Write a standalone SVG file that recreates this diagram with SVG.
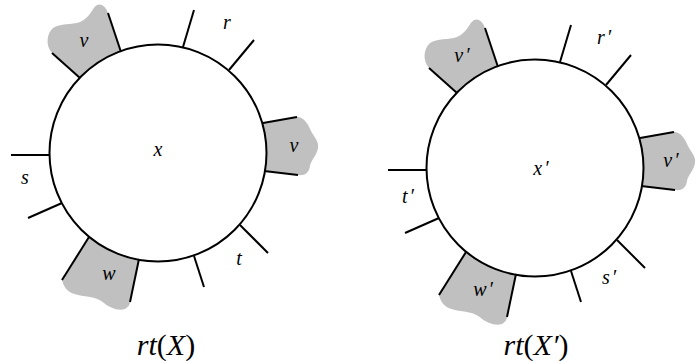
<svg xmlns="http://www.w3.org/2000/svg" width="698" height="361" viewBox="0 0 698 361">
<style>
.blob{fill:#c0c0c0;stroke:none}
.ring{fill:#fff;stroke:#000;stroke-width:2}
.spoke{stroke:#000;stroke-width:2;fill:none}
.lbl{font-family:"Liberation Serif","Times New Roman",serif;font-style:italic;font-size:20px;text-anchor:middle;fill:#000}
.title{font-family:"Liberation Serif","Times New Roman",serif;font-style:italic;font-size:30px;text-anchor:middle;fill:#000}
.up{font-style:normal}
</style>
<defs>
<g id="shape">
<path class="blob" d="M121,52 L108,13 C106,7 102,3 97,5 C92,8 90,18 80,22 C72,25 60,23 53,28 C47,33 45,45 52,53 L80,78 L110,80 Z"/>
<path class="blob" d="M263,123 L297,117 C304,117 308,124 311,131 C314,137 319,141 318,148 C317,155 311,160 310,166 C309,172 306,176 298,175 L264,171 L250,150 Z"/>
<path class="blob" d="M89,237 L62,280 C64,288 68,293 78,295 C88,297 97,297 104,303 C110,308 118,311 125,309 C128,307 130,305 130,302 L139,259 L110,240 Z"/>
<circle class="ring" cx="158" cy="153" r="108.5"/>
<g class="spoke">
<line x1="183" y1="47" x2="194" y2="10"/>
<line x1="229" y1="70" x2="254" y2="40"/>
<line x1="121" y1="52" x2="108" y2="13"/>
<line x1="80" y1="78" x2="52" y2="53"/>
<line x1="263" y1="123" x2="297" y2="117"/>
<line x1="264" y1="171" x2="298" y2="175"/>
<line x1="50" y1="155" x2="11" y2="155"/>
<line x1="62" y1="203" x2="28" y2="218"/>
<line x1="89" y1="237" x2="62" y2="280"/>
<line x1="139" y1="259" x2="130" y2="302"/>
<line x1="194" y1="256" x2="204" y2="287"/>
<line x1="240" y1="225" x2="268" y2="253"/>
</g>
</g>
</defs>
<g id="rtX">
<use href="#shape"/>
<text class="lbl" x="227" y="29">r</text>
<text class="lbl" x="84" y="47">v</text>
<text class="lbl" x="294" y="152">v</text>
<text class="lbl" x="158" y="156">x</text>
<text class="lbl" x="25" y="184">s</text>
<text class="lbl" x="109" y="280">w</text>
<text class="lbl" x="239" y="265">t</text>
<text class="title" x="166" y="355">rt<tspan class="up">(</tspan>X<tspan class="up">)</tspan></text>
</g>
<g id="rtXprime">
<use href="#shape" transform="translate(377,15)"/>
<text class="lbl" x="604" y="44">r<tspan dx="2">′</tspan></text>
<text class="lbl" x="462" y="62">v<tspan dx="2">′</tspan></text>
<text class="lbl" x="671" y="167">v<tspan dx="2">′</tspan></text>
<text class="lbl" x="541" y="175">x<tspan dx="2">′</tspan></text>
<text class="lbl" x="408" y="203">t<tspan dx="2">′</tspan></text>
<text class="lbl" x="483" y="296">w<tspan dx="2">′</tspan></text>
<text class="lbl" x="609" y="284">s<tspan dx="2">′</tspan></text>
<text class="title" x="536" y="355">rt<tspan class="up">(</tspan>X′<tspan class="up">)</tspan></text>
</g>
</svg>
